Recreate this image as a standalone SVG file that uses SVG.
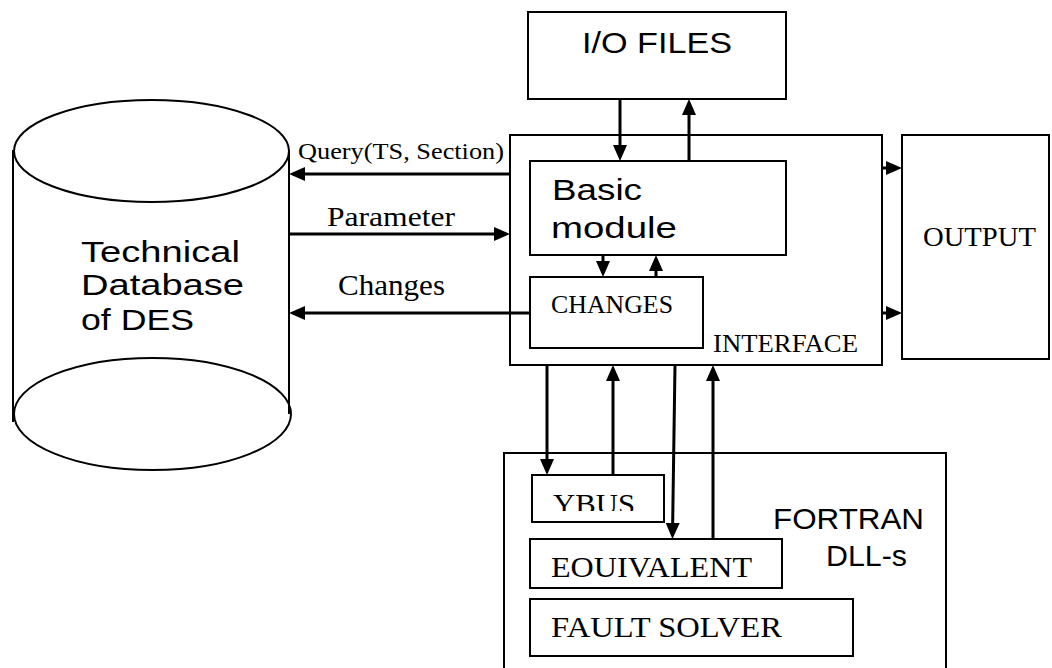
<svg xmlns="http://www.w3.org/2000/svg" width="1052" height="668" viewBox="0 0 1052 668">
<style>
.box{fill:#fff;stroke:#000;stroke-width:2}
.shape{fill:none;stroke:#000;stroke-width:2}
.conn{fill:none;stroke:#000;stroke-width:3}
.sans{font-family:"Liberation Sans",Arial,sans-serif;fill:#000}
.serif{font-family:"Liberation Serif","Times New Roman",serif;fill:#000}
</style>
<defs>
<marker id="ah" viewBox="0 0 16 14" refX="12" refY="7" markerWidth="16" markerHeight="14" markerUnits="userSpaceOnUse" orient="auto">
<path d="M0,0 L16,7 L0,14 Z" fill="#000"/>
</marker>
<clipPath id="ybusclip"><rect x="532" y="476" width="132" height="35"/></clipPath>
</defs>
<rect width="1052" height="668" fill="#fff"/>

<g id="database">
<ellipse class="shape" cx="152.5" cy="414" rx="138.5" ry="56"/>
<line class="shape" x1="13" y1="150" x2="13" y2="422"/>
<line class="shape" x1="289" y1="151" x2="289" y2="414"/>
<ellipse class="box" cx="151.5" cy="151" rx="137.5" ry="51"/>
<text class="sans" font-size="30" x="81" y="262" textLength="159" lengthAdjust="spacingAndGlyphs">Technical</text>
<text class="sans" font-size="30" x="81" y="295" textLength="163" lengthAdjust="spacingAndGlyphs">Database</text>
<text class="sans" font-size="30" x="81" y="330" textLength="113" lengthAdjust="spacingAndGlyphs">of DES</text>
</g>

<g id="io-files">
<rect class="box" x="528" y="12" width="258" height="87"/>
<text class="sans" font-size="30" x="582" y="53" textLength="150" lengthAdjust="spacingAndGlyphs">I/O FILES</text>
</g>

<g id="interface">
<rect class="box" x="510" y="135" width="372" height="230"/>
<text class="serif" font-size="26" x="713" y="352" textLength="145" lengthAdjust="spacingAndGlyphs">INTERFACE</text>
</g>

<g id="basic-module">
<rect class="box" x="530" y="161" width="256" height="94"/>
<text class="sans" font-size="29" x="552" y="200" textLength="90" lengthAdjust="spacingAndGlyphs">Basic</text>
<text class="sans" font-size="29" x="551" y="238" textLength="126" lengthAdjust="spacingAndGlyphs">module</text>
</g>

<g id="changes">
<rect class="box" x="530" y="277" width="173" height="71"/>
<text class="serif" font-size="26" x="551" y="313" textLength="122" lengthAdjust="spacingAndGlyphs">CHANGES</text>
</g>

<g id="output">
<rect class="box" x="902" y="135" width="147" height="224"/>
<text class="serif" font-size="28" x="923" y="246" textLength="113" lengthAdjust="spacingAndGlyphs">OUTPUT</text>
</g>

<g id="fortran">
<rect class="box" x="504" y="453" width="442" height="230"/>
<text class="sans" font-size="30" x="773" y="529" textLength="151" lengthAdjust="spacingAndGlyphs">FORTRAN</text>
<text class="sans" font-size="30" x="826" y="566" textLength="81" lengthAdjust="spacingAndGlyphs">DLL-s</text>
</g>

<g id="ybus">
<rect class="box" x="532" y="475" width="132" height="47"/>
<text class="serif" font-size="29" x="553" y="514" textLength="82" lengthAdjust="spacingAndGlyphs" clip-path="url(#ybusclip)">YBUS</text>
</g>

<g id="equivalent">
<rect class="box" x="530" y="539" width="252" height="49"/>
<text class="serif" font-size="30" x="551" y="577" textLength="201" lengthAdjust="spacingAndGlyphs">EOUIVALENT</text>
</g>

<g id="fault-solver">
<rect class="box" x="530" y="599" width="323" height="57"/>
<text class="serif" font-size="29" x="551" y="637" textLength="231" lengthAdjust="spacingAndGlyphs">FAULT SOLVER</text>
</g>

<g id="connectors">
<line class="conn" x1="510" y1="174" x2="293" y2="174" marker-end="url(#ah)"/>
<text class="serif" font-size="24" x="298" y="159" textLength="206" lengthAdjust="spacingAndGlyphs">Query(TS, Section)</text>
<line class="conn" x1="289" y1="234" x2="506" y2="234" marker-end="url(#ah)"/>
<text class="serif" font-size="28" x="327" y="226" textLength="128" lengthAdjust="spacingAndGlyphs">Parameter</text>
<line class="conn" x1="530" y1="313" x2="293" y2="313" marker-end="url(#ah)"/>
<text class="serif" font-size="29" x="338" y="295" textLength="107" lengthAdjust="spacingAndGlyphs">Changes</text>
<line class="conn" x1="620" y1="99" x2="620" y2="157" marker-end="url(#ah)"/>
<line class="conn" x1="689" y1="161" x2="689" y2="103" marker-end="url(#ah)"/>
<line class="conn" x1="603" y1="255" x2="603" y2="273" marker-end="url(#ah)"/>
<line class="conn" x1="656" y1="277" x2="656" y2="259" marker-end="url(#ah)"/>
<line class="conn" x1="882" y1="168" x2="898" y2="168" marker-end="url(#ah)" stroke-width="0"/>
<line class="conn" x1="882" y1="313" x2="898" y2="313" marker-end="url(#ah)" stroke-width="0"/>
<line class="conn" x1="547" y1="365" x2="547" y2="471" marker-end="url(#ah)"/>
<line class="conn" x1="613" y1="475" x2="613" y2="369" marker-end="url(#ah)"/>
<line class="conn" x1="675" y1="365" x2="672.5" y2="535" marker-end="url(#ah)"/>
<line class="conn" x1="713" y1="539" x2="713" y2="369" marker-end="url(#ah)"/>
</g>
</svg>
